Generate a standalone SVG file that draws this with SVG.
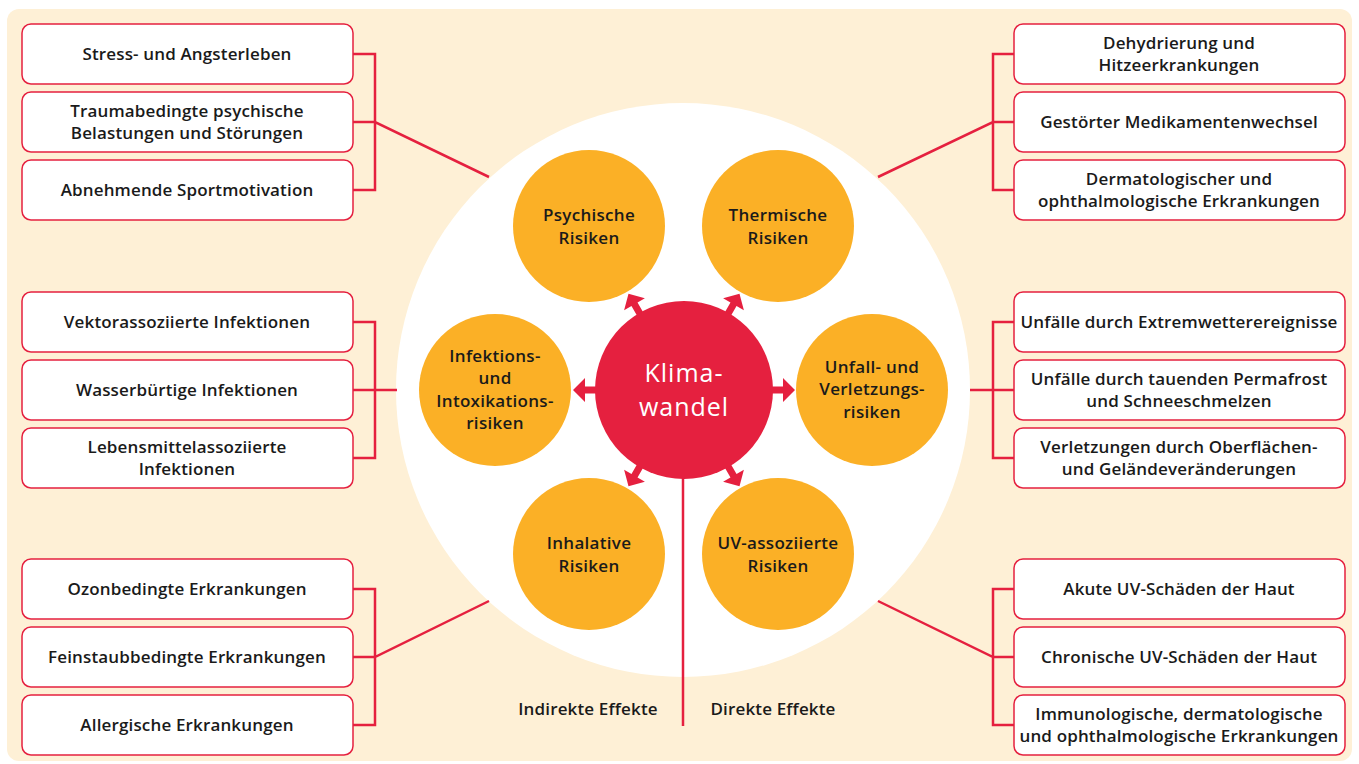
<svg xmlns="http://www.w3.org/2000/svg" width="1359" height="764" viewBox="0 0 1359 764">
  <defs>
    <style>
      .bg { fill: #FEF0D6; }
      .box { fill: #FFFFFF; stroke: #E5203F; stroke-width: 1.5; }
      .risk { fill: #FBB026; }
      .link { fill: none; stroke: #E5203F; stroke-width: 2.5; }
      .t { font-family: "Open Sans", "Liberation Sans", sans-serif; font-size: 17px; font-weight: 600; letter-spacing: 0.15px; fill: #1A1A1A; text-anchor: middle; }
      .rt { font-family: "Open Sans", "Liberation Sans", sans-serif; font-size: 17px; font-weight: 600; letter-spacing: 0.3px; fill: #1A1A1A; text-anchor: middle; }
      .ct { font-family: "Open Sans", "Liberation Sans", sans-serif; font-size: 25px; font-weight: 500; letter-spacing: 1px; fill: #FFFFFF; text-anchor: middle; }
    </style>
    <!-- outward arrow from the centre, pointing along +x -->
    <path id="arrow" d="M80,-3.5 H99 V-12 L111,0 L99,12 V3.5 H80 Z" fill="#E5203F"/>
  </defs>

  <rect class="bg" x="7" y="9" width="1345" height="752" rx="12"/>
  <circle cx="683" cy="390" r="287" fill="#FFFFFF"/>

  <!-- connectors -->
  <g id="connectors">
    <!-- left top -->
    <path class="link" d="M353,54 H375 V190 H353 M353,122 H375 L489,177"/>
    <!-- left middle -->
    <path class="link" d="M353,322 H375 V458 H353 M353,390 H397"/>
    <!-- left bottom -->
    <path class="link" d="M353,589 H375 V725 H353 M353,657 H375 L489,601"/>
    <!-- right top -->
    <path class="link" d="M1014,54 H993 V190 H1014 M1014,122 H993 L878,177"/>
    <!-- right middle -->
    <path class="link" d="M1014,322 H993 V458 H1014 M1014,390 H970"/>
    <!-- right bottom -->
    <path class="link" d="M1014,589 H993 V725 H1014 M1014,657 H993 L878,601"/>
    <!-- divider between indirect and direct effects -->
    <line class="link" x1="683" y1="470" x2="683" y2="726"/>
    <g transform="translate(684,390)">
      <use href="#arrow"/>
      <use href="#arrow" transform="rotate(180)"/>
      <use href="#arrow" transform="rotate(-60)"/>
      <use href="#arrow" transform="rotate(-120)"/>
      <use href="#arrow" transform="rotate(60)"/>
      <use href="#arrow" transform="rotate(120)"/>
    </g>
  </g>

  <!-- centre -->
  <g id="klimawandel">
    <circle cx="684" cy="390" r="89" fill="#E5203F"/>
    <text class="ct" x="684" y="382">Klima-</text>
    <text class="ct" x="684" y="416">wandel</text>
  </g>

  <!-- risk circles -->
  <g id="psychische-risiken">
    <circle class="risk" cx="589" cy="226" r="76"/>
    <text class="rt" x="589" y="221">Psychische</text>
    <text class="rt" x="589" y="244">Risiken</text>
  </g>
  <g id="thermische-risiken">
    <circle class="risk" cx="778" cy="226" r="76"/>
    <text class="rt" x="778" y="221">Thermische</text>
    <text class="rt" x="778" y="244">Risiken</text>
  </g>
  <g id="infektionsrisiken">
    <circle class="risk" cx="495" cy="390" r="76"/>
    <text class="rt" x="495" y="362">Infektions-</text>
    <text class="rt" x="495" y="384">und</text>
    <text class="rt" x="495" y="407">Intoxikations-</text>
    <text class="rt" x="495" y="429">risiken</text>
  </g>
  <g id="unfallrisiken">
    <circle class="risk" cx="872" cy="390" r="76"/>
    <text class="rt" x="872" y="373">Unfall- und</text>
    <text class="rt" x="872" y="395">Verletzungs-</text>
    <text class="rt" x="872" y="418">risiken</text>
  </g>
  <g id="inhalative-risiken">
    <circle class="risk" cx="589" cy="554" r="76"/>
    <text class="rt" x="589" y="549">Inhalative</text>
    <text class="rt" x="589" y="572">Risiken</text>
  </g>
  <g id="uv-risiken">
    <circle class="risk" cx="778" cy="554" r="76"/>
    <text class="rt" x="778" y="549">UV-assoziierte</text>
    <text class="rt" x="778" y="572">Risiken</text>
  </g>

  <!-- left boxes -->
  <g id="stress">
    <rect class="box" x="22" y="24" width="331" height="60" rx="9"/>
    <text class="t" x="187" y="60">Stress- und Angsterleben</text>
  </g>
  <g id="trauma">
    <rect class="box" x="22" y="92" width="331" height="60" rx="9"/>
    <text class="t" x="187" y="117">Traumabedingte psychische</text>
    <text class="t" x="187" y="139">Belastungen und Störungen</text>
  </g>
  <g id="sportmotivation">
    <rect class="box" x="22" y="160" width="331" height="60" rx="9"/>
    <text class="t" x="187" y="196">Abnehmende Sportmotivation</text>
  </g>

  <g id="vektor">
    <rect class="box" x="22" y="292" width="331" height="60" rx="9"/>
    <text class="t" x="187" y="328">Vektorassoziierte Infektionen</text>
  </g>
  <g id="wasser">
    <rect class="box" x="22" y="360" width="331" height="60" rx="9"/>
    <text class="t" x="187" y="396">Wasserbürtige Infektionen</text>
  </g>
  <g id="lebensmittel">
    <rect class="box" x="22" y="428" width="331" height="60" rx="9"/>
    <text class="t" x="187" y="453">Lebensmittelassoziierte</text>
    <text class="t" x="187" y="475">Infektionen</text>
  </g>

  <g id="ozon">
    <rect class="box" x="22" y="559" width="331" height="60" rx="9"/>
    <text class="t" x="187" y="595">Ozonbedingte Erkrankungen</text>
  </g>
  <g id="feinstaub">
    <rect class="box" x="22" y="627" width="331" height="60" rx="9"/>
    <text class="t" x="187" y="663">Feinstaubbedingte Erkrankungen</text>
  </g>
  <g id="allergie">
    <rect class="box" x="22" y="695" width="331" height="60" rx="9"/>
    <text class="t" x="187" y="731">Allergische Erkrankungen</text>
  </g>

  <!-- right boxes -->
  <g id="dehydrierung">
    <rect class="box" x="1014" y="24" width="331" height="60" rx="9"/>
    <text class="t" x="1179" y="49">Dehydrierung und</text>
    <text class="t" x="1179" y="71">Hitzeerkrankungen</text>
  </g>
  <g id="medikamente">
    <rect class="box" x="1014" y="92" width="331" height="60" rx="9"/>
    <text class="t" x="1179" y="128">Gestörter Medikamentenwechsel</text>
  </g>
  <g id="dermatologisch">
    <rect class="box" x="1014" y="160" width="331" height="60" rx="9"/>
    <text class="t" x="1179" y="185">Dermatologischer und</text>
    <text class="t" x="1179" y="207">ophthalmologische Erkrankungen</text>
  </g>

  <g id="extremwetter">
    <rect class="box" x="1014" y="292" width="331" height="60" rx="9"/>
    <text class="t" x="1179" y="328">Unfälle durch Extremwetterereignisse</text>
  </g>
  <g id="permafrost">
    <rect class="box" x="1014" y="360" width="331" height="60" rx="9"/>
    <text class="t" x="1179" y="385">Unfälle durch tauenden Permafrost</text>
    <text class="t" x="1179" y="407">und Schneeschmelzen</text>
  </g>
  <g id="gelaende">
    <rect class="box" x="1014" y="428" width="331" height="60" rx="9"/>
    <text class="t" x="1179" y="453">Verletzungen durch Oberflächen-</text>
    <text class="t" x="1179" y="475">und Geländeveränderungen</text>
  </g>

  <g id="akut-uv">
    <rect class="box" x="1014" y="559" width="331" height="60" rx="9"/>
    <text class="t" x="1179" y="595">Akute UV-Schäden der Haut</text>
  </g>
  <g id="chronisch-uv">
    <rect class="box" x="1014" y="627" width="331" height="60" rx="9"/>
    <text class="t" x="1179" y="663">Chronische UV-Schäden der Haut</text>
  </g>
  <g id="immunologisch">
    <rect class="box" x="1014" y="695" width="331" height="60" rx="9"/>
    <text class="t" x="1179" y="720">Immunologische, dermatologische</text>
    <text class="t" x="1179" y="742">und ophthalmologische Erkrankungen</text>
  </g>

  <!-- effect labels -->
  <g id="labels">
    <text class="t" x="588" y="715">Indirekte Effekte</text>
    <text class="t" x="773" y="715">Direkte Effekte</text>
  </g>
</svg>
